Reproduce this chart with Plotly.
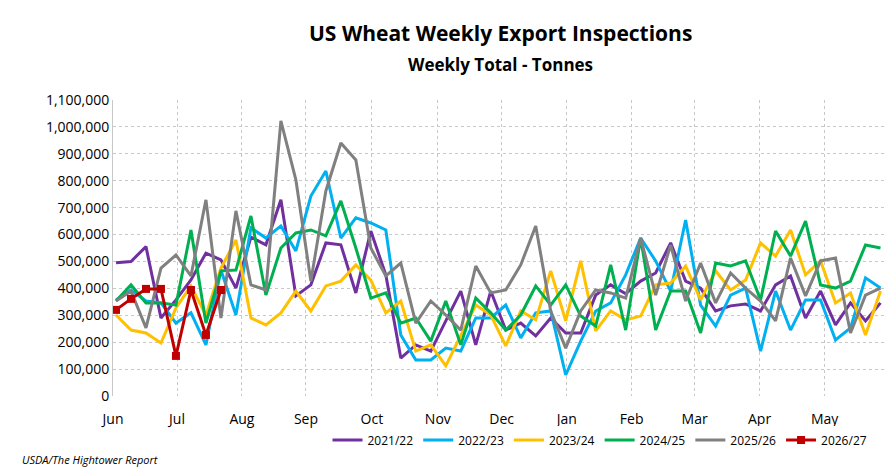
import plotly.graph_objects as go

months = ["Jun","Jul","Aug","Sep","Oct","Nov","Dec","Jan","Feb","Mar","Apr","May"]
month_weeks = [-0.2,4.07,8.4,12.67,17.07,21.47,25.73,30.07,34.4,38.6,42.93,47.27]
y_ticks = list(range(0, 1100001, 100000))

s2122 = [495,500,555,290,357,431,531,506,401,590,562,729,372,413,569,562,383,613,
         450,141,190,167,279,390,190,390,245,271,223,290,234,234,375,413,
         380,427,457,569,427,401,316,335,342,316,413,446,290,390,264,346,279,346]
s2223 = [357,394,353,346,271,309,190,468,301,625,587,632,539,743,836,587,662,643,
         617,227,134,134,178,167,290,290,338,216,309,316,78,204,316,346,
         450,587,502,390,654,338,260,375,401,167,390,245,357,357,208,253,439,401]
s2324 = [301,245,234,197,327,409,300,475,580,290,264,309,390,316,409,427,487,431,
         309,353,167,190,112,227,338,301,186,316,283,465,279,502,242,316,
         283,297,413,420,483,357,465,394,431,569,520,617,450,502,346,383,227,390]
s2425 = [353,413,346,346,338,617,271,465,468,669,375,550,606,617,595,725,550,364,
         383,271,290,204,353,190,364,309,245,301,409,338,413,297,260,487,
         245,587,245,390,390,234,494,483,502,357,613,520,650,413,401,427,561,550]
s2526 = [353,390,253,475,524,446,729,290,688,413,394,1022,803,427,762,940,877,550,
         446,494,271,353,301,245,483,383,394,487,632,316,178,316,394,383,
         364,587,375,561,353,494,346,457,401,353,279,513,372,502,513,234,375,401]
s2627 = [320,361,398,398,149,394,227,394]

series = [("2021/22", s2122, "#7030A0"), ("2022/23", s2223, "#00B0F0"),
          ("2023/24", s2324, "#FFC000"), ("2024/25", s2425, "#00B050"),
          ("2025/26", s2526, "#808080")]

fig = go.Figure()
for name, vals, col in series:
    fig.add_trace(go.Scatter(x=list(range(len(vals))), y=[v*1000 for v in vals],
                             mode="lines", name=name, line=dict(color=col, width=3)))
fig.add_trace(go.Scatter(x=list(range(len(s2627))), y=[v*1000 for v in s2627],
                         mode="lines+markers", name="2026/27",
                         line=dict(color="#C00000", width=3),
                         marker=dict(symbol="square", size=8, color="#C00000")))

fig.update_layout(
    width=892, height=468, paper_bgcolor="white", plot_bgcolor="white",
    margin=dict(l=105, r=12, t=92, b=80, autoexpand=False),
    font=dict(family="Open Sans, Liberation Sans, sans-serif", color="#000"),
    xaxis=dict(range=[-0.2, 51.5], tickvals=month_weeks, ticktext=months,
               showgrid=True, gridcolor="#C8C8C8", griddash="dot", zeroline=False,
               tickfont=dict(size=14), showline=False, automargin=False,
               ticks="outside", ticklen=10, tickcolor="rgba(0,0,0,0)"),
    yaxis=dict(range=[0, 1100000], tickvals=y_ticks, tickformat=",",
               showgrid=True, gridcolor="#C8C8C8", griddash="dot", zeroline=False,
               tickfont=dict(size=14), showline=True, linecolor="#C8C8C8",
               automargin=False),
    legend=dict(orientation="h", x=0.98, xanchor="right", y=-0.1, yanchor="top",
                font=dict(size=12), traceorder="normal"),
)
fig.add_annotation(text="<b>US Wheat Weekly Export Inspections</b>", xref="paper", yref="paper",
                   x=0.5, y=(468-27)/468, yref_="", showarrow=False, font=dict(size=21)) if False else None
fig.add_annotation(text="<b>US Wheat Weekly Export Inspections</b>", xref="paper", yref="paper",
                   x=0.5, xanchor="center", y=1.225, yanchor="middle",
                   showarrow=False, font=dict(size=21))
fig.add_annotation(text="<b>Weekly Total - Tonnes</b>", xref="paper", yref="paper",
                   x=0.5, xanchor="center", y=1.12, yanchor="middle",
                   showarrow=False, font=dict(size=17))
fig.add_annotation(text="<i>USDA/The Hightower Report</i>", xref="paper", yref="paper",
                   x=-0.12, y=-0.215, xanchor="left", yanchor="middle",
                   showarrow=False, font=dict(size=11))
fig.write_html("out.html")
